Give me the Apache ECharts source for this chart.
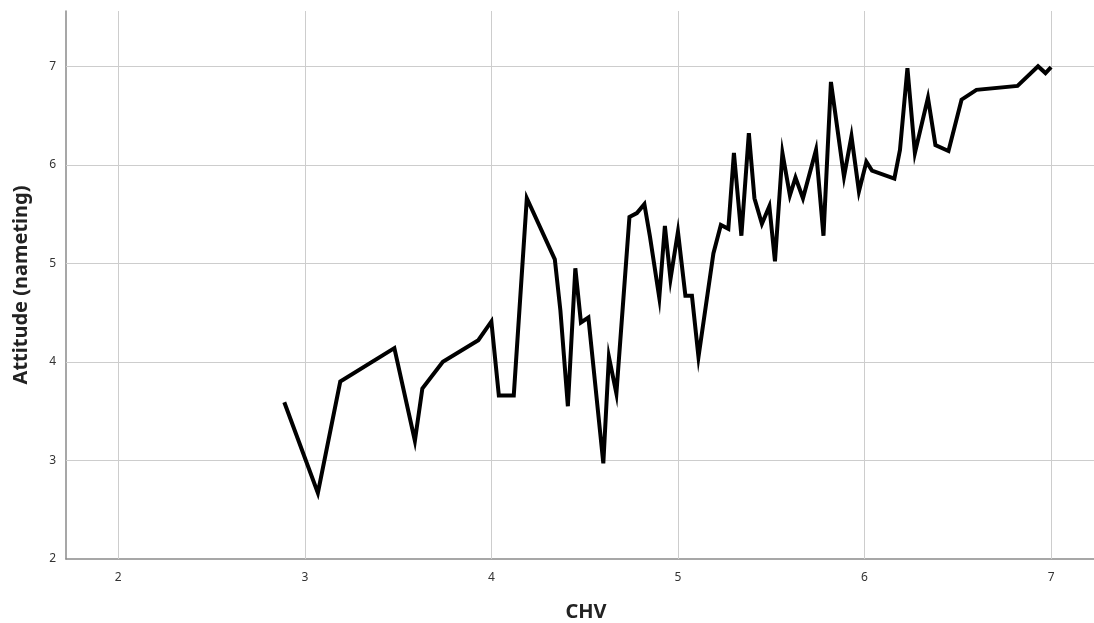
<!DOCTYPE html>
<html>
<head>
<meta charset="utf-8">
<script src="https://cdn.jsdelivr.net/npm/echarts@6/dist/echarts.min.js"></script>
<style>
  html, body { margin: 0; padding: 0; background: #ffffff; }
  #chart { width: 1094px; height: 623px; }
</style>
</head>
<body>
<div id="chart"></div>
<script>
// CHV values (x) and Attitude (nameting) values (y)
const chv = [
  2.89, 3.07, 3.19, 3.48, 3.59, 3.63, 3.74, 3.93, 4.00, 4.04,
  4.12, 4.19, 4.34, 4.37, 4.41, 4.45, 4.48, 4.52, 4.60, 4.63,
  4.67, 4.74, 4.78, 4.82, 4.85, 4.90, 4.93, 4.96, 5.00, 5.04,
  5.075, 5.11, 5.19, 5.23, 5.27, 5.30, 5.34, 5.38, 5.41, 5.45,
  5.49, 5.52, 5.56, 5.60, 5.63, 5.67, 5.74, 5.78, 5.82, 5.89,
  5.93, 5.97, 6.01, 6.04, 6.16, 6.19, 6.23, 6.27, 6.34, 6.38,
  6.45, 6.52, 6.60, 6.82, 6.93, 6.97, 7.00
];
const attitude = [
  3.59, 2.67, 3.80, 4.14, 3.20, 3.73, 4.00, 4.22, 4.41, 3.66,
  3.66, 5.66, 5.04, 4.52, 3.55, 4.95, 4.40, 4.45, 2.97, 4.05,
  3.68, 5.47, 5.51, 5.60, 5.27, 4.65, 5.38, 4.84, 5.32, 4.67,
  4.67, 4.05, 5.10, 5.39, 5.35, 6.12, 5.28, 6.32, 5.66, 5.40,
  5.58, 5.02, 6.12, 5.69, 5.87, 5.66, 6.15, 5.28, 6.84, 5.88,
  6.29, 5.73, 6.03, 5.94, 5.86, 6.15, 6.98, 6.12, 6.68, 6.20,
  6.14, 6.66, 6.76, 6.80, 7.00, 6.93, 6.99
];
const xTicks = [2, 3, 4, 5, 6, 7];
const yTicks = [2, 3, 4, 5, 6, 7];

const FONT = '"Noto Sans", "Open Sans", sans-serif';
const gridColor = '#cdcdcd';

const points = chv.map((v, i) => [v, attitude[i]]);
const gridLines = []
  .concat(xTicks.map(v => ({ xAxis: v })))
  .concat(yTicks.filter(v => v !== 2).map(v => ({ yAxis: v })));

const chart = echarts.init(document.getElementById('chart'), null, { renderer: 'canvas' });
chart.setOption({
  animation: false,
  backgroundColor: '#ffffff',
  grid: { left: 66, right: 0, top: 11, bottom: 64, containLabel: false, outerBoundsMode: 'none' },
  xAxis: {
    type: 'value',
    min: 1.72,
    max: 7.23,
    name: 'CHV',
    nameLocation: 'middle',
    nameGap: 43,
    nameTextStyle: { fontFamily: FONT, fontSize: 20, fontWeight: 'bold', color: '#222', padding: [0, 0, 0, 12] },
    axisLine: { show: true, onZero: false, lineStyle: { color: '#8a8a8a', width: 1.5 } },
    axisTick: { show: false },
    splitLine: { show: false },
    axisLabel: {
      customValues: xTicks,
      margin: 13,
      fontFamily: FONT, fontSize: 12, color: '#333'
    }
  },
  yAxis: {
    type: 'value',
    min: 2,
    max: 7.56,
    name: 'Attitude (nameting)',
    nameLocation: 'middle',
    nameRotate: 90,
    nameGap: 35,
    nameTextStyle: { fontFamily: FONT, fontSize: 20, fontWeight: 'bold', color: '#222' },
    axisLine: { show: true, onZero: false, lineStyle: { color: '#8a8a8a', width: 1.5 } },
    axisTick: { show: false },
    splitLine: { show: false },
    axisLabel: {
      customValues: yTicks,
      margin: 10,
      fontFamily: FONT, fontSize: 12, color: '#333'
    }
  },
  series: [
    {
      type: 'line',
      data: [],
      z: 1,
      silent: true,
      markLine: {
        silent: true,
        symbol: ['none', 'none'],
        label: { show: false },
        lineStyle: { color: gridColor, width: 1, type: 'solid' },
        emphasis: { disabled: true },
        data: gridLines
      }
    },
    {
      type: 'line',
      data: points,
      z: 5,
      showSymbol: false,
      symbol: 'none',
      lineStyle: { color: '#000000', width: 4, join: 'miter', miterLimit: 10, cap: 'butt' },
      itemStyle: { color: '#000000' }
    }
  ]
});
</script>
</body>
</html>
